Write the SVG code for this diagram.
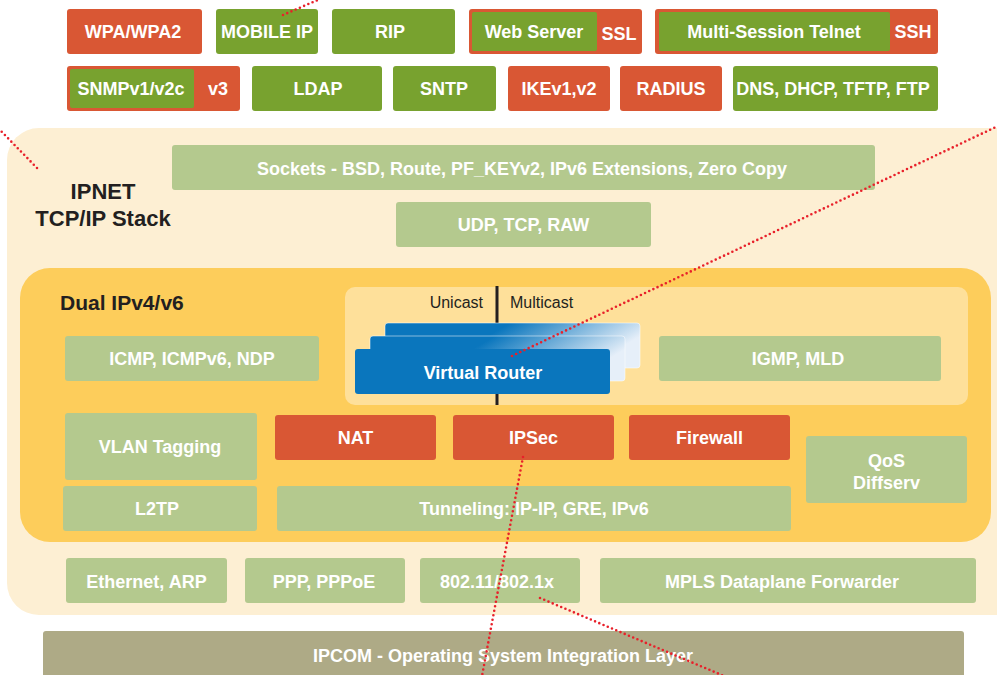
<svg xmlns="http://www.w3.org/2000/svg" width="997" height="675" viewBox="0 0 997 675">
<style>
text{font-family:"Liberation Sans",Arial,sans-serif;font-weight:bold;fill:#fff;text-anchor:middle;font-size:18px}
.og{fill:#d95734}
.dg{fill:#78a22f}
.lg{fill:#b4c98e}
.dark{fill:#231f20}
.thin{font-weight:normal;font-size:16px;fill:#231f20}
.dot{fill:none;stroke:#e8202a;stroke-width:2.6;stroke-linecap:round;stroke-dasharray:0 4.6}
</style>
<defs>
<linearGradient id="vr" x1="0" y1="0" x2="1" y2="0.3">
<stop offset="0.45" stop-color="#0a76bd"/>
<stop offset="1" stop-color="#e6eff9"/>
</linearGradient>
</defs>
<rect width="997" height="675" fill="#fff"/>

<!-- panels -->
<g id="ipnet">
<rect x="7" y="128" width="1020" height="487" rx="32" fill="#fdefd3"/>
<text class="dark" x="103" y="199" style="font-size:22px">IPNET</text>
<text class="dark" x="103" y="226" style="font-size:22px">TCP/IP Stack</text>
</g>
<g id="dual">
<rect x="20" y="268" width="971" height="274" rx="30" fill="#fdcd5b"/>
<text class="dark" x="60" y="310" style="font-size:21px;text-anchor:start">Dual IPv4/v6</text>
</g>
<g id="castpanel">
<rect x="345" y="287" width="623" height="118" rx="10" fill="#fee09a"/>
<text class="thin" x="483" y="308" style="text-anchor:end">Unicast</text>
<text class="thin" x="510" y="308" style="text-anchor:start">Multicast</text>
<line x1="497" y1="286" x2="497" y2="405" stroke="#231f20" stroke-width="3"/>
</g>

<!-- top row 1 -->
<g id="wpa"><rect class="og" x="67" y="9" width="135" height="45" rx="3"/><text x="133" y="38">WPA/WPA2</text></g>
<g id="mobileip"><rect class="dg" x="216" y="9" width="102" height="45" rx="3"/><text x="267" y="38">MOBILE IP</text></g>
<g id="rip"><rect class="dg" x="332" y="9" width="123" height="45" rx="3"/><text x="390" y="38">RIP</text></g>
<g id="webserver"><rect class="og" x="469" y="9" width="173" height="45" rx="3"/><rect class="dg" x="472" y="12" width="125" height="39" rx="2"/><text x="534" y="38">Web Server</text><text x="619" y="40">SSL</text></g>
<g id="telnet"><rect class="og" x="655" y="9" width="283" height="45" rx="3"/><rect class="dg" x="659" y="12" width="231" height="39" rx="2"/><text x="774" y="38">Multi-Session Telnet</text><text x="913" y="38">SSH</text></g>

<!-- top row 2 -->
<g id="snmp"><rect class="og" x="67" y="66" width="173" height="45" rx="3"/><rect class="dg" x="70" y="69" width="124" height="39" rx="2"/><text x="131" y="95">SNMPv1/v2c</text><text x="218" y="95">v3</text></g>
<g id="ldap"><rect class="dg" x="252" y="66" width="130" height="45" rx="3"/><text x="318" y="95">LDAP</text></g>
<g id="sntp"><rect class="dg" x="393" y="66" width="103" height="45" rx="3"/><text x="444" y="95">SNTP</text></g>
<g id="ike"><rect class="og" x="508" y="66" width="102" height="45" rx="3"/><text x="559" y="95">IKEv1,v2</text></g>
<g id="radius"><rect class="og" x="620" y="66" width="102" height="45" rx="3"/><text x="671" y="95">RADIUS</text></g>
<g id="dns"><rect class="dg" x="733" y="66" width="205" height="45" rx="3"/><text x="833" y="95">DNS, DHCP, TFTP, FTP</text></g>

<!-- stack -->
<g id="sockets"><rect class="lg" x="172" y="145" width="703" height="45" rx="3"/><text x="522" y="175">Sockets - BSD, Route, PF_KEYv2, IPv6 Extensions, Zero Copy</text></g>
<g id="udp"><rect class="lg" x="396" y="202" width="255" height="45" rx="3"/><text x="523.5" y="231">UDP, TCP, RAW</text></g>

<g id="icmp"><rect class="lg" x="65" y="336" width="254" height="45" rx="3"/><text x="192" y="365">ICMP, ICMPv6, NDP</text></g>
<g id="virtualrouter">
<rect x="385" y="323" width="255" height="45" rx="3" fill="url(#vr)" stroke="#fff" stroke-opacity="0.5"/>
<rect x="370" y="336" width="255" height="45" rx="3" fill="url(#vr)" stroke="#fff" stroke-opacity="0.5"/>
<rect x="355" y="349" width="255" height="45" rx="3" fill="#0a76bd"/>
<text x="483" y="379">Virtual Router</text>
</g>
<g id="igmp"><rect class="lg" x="659" y="336" width="282" height="45" rx="3"/><text x="798" y="365">IGMP, MLD</text></g>

<g id="vlan"><rect class="lg" x="65" y="413" width="192" height="67" rx="3"/><text x="160" y="453">VLAN Tagging</text></g>
<g id="nat"><rect class="og" x="275" y="415" width="161" height="45" rx="3"/><text x="355.5" y="444">NAT</text></g>
<g id="ipsec"><rect class="og" x="453" y="415" width="161" height="45" rx="3"/><text x="533.5" y="444">IPSec</text></g>
<g id="firewall"><rect class="og" x="629" y="415" width="161" height="45" rx="3"/><text x="709.5" y="444">Firewall</text></g>
<g id="qos"><rect class="lg" x="806" y="436" width="161" height="67" rx="3"/><text x="886.5" y="467">QoS</text><text x="886.5" y="489">Diffserv</text></g>
<g id="l2tp"><rect class="lg" x="63" y="486" width="194" height="45" rx="3"/><text x="157" y="515">L2TP</text></g>
<g id="tunneling"><rect class="lg" x="277" y="486" width="514" height="45" rx="3"/><text x="534" y="515">Tunneling: IP-IP, GRE, IPv6</text></g>

<g id="ethernet"><rect class="lg" x="66" y="558" width="161" height="45" rx="3"/><text x="146.5" y="588">Ethernet, ARP</text></g>
<g id="ppp"><rect class="lg" x="245" y="558" width="160" height="45" rx="3"/><text x="324" y="588">PPP, PPPoE</text></g>
<g id="wifi"><rect class="lg" x="420" y="558" width="160" height="45" rx="3"/><text x="497" y="588">802.11/802.1x</text></g>
<g id="mpls"><rect class="lg" x="600" y="558" width="376" height="45" rx="3"/><text x="782" y="588">MPLS Dataplane Forwarder</text></g>

<g id="ipcom"><rect x="43" y="631" width="921" height="60" rx="3" fill="#aeaa86"/><text x="503" y="662">IPCOM - Operating System Integration Layer</text></g>

<!-- connectors -->
<g id="connectors">
<line class="dot" x1="283" y1="15" x2="320" y2="-1"/>
<line class="dot" x1="37" y1="168" x2="0" y2="130"/>
<line class="dot" x1="512" y1="356" x2="998" y2="126"/>
<line class="dot" x1="523" y1="457" x2="482" y2="676"/>
<line class="dot" x1="540" y1="598" x2="724" y2="676"/>
</g>
</svg>
